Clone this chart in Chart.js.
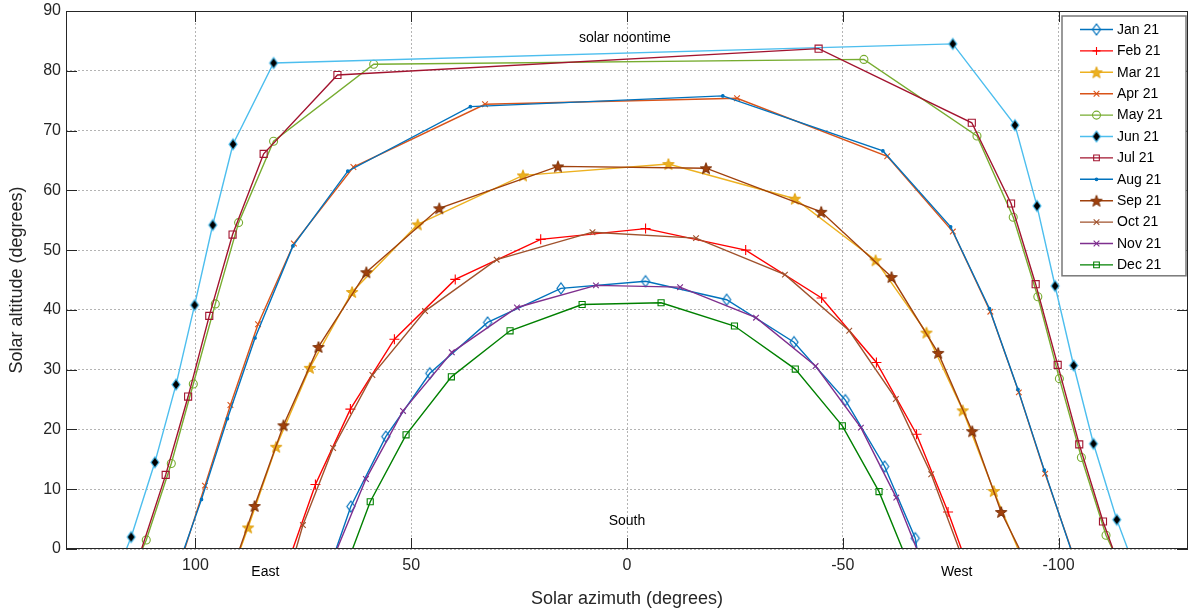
<!DOCTYPE html>
<html lang="en">
<head>
  <meta charset="UTF-8" />
  <title>Sun path diagram | Solar altitude vs azimuth</title>
  <script src="https://cdn.jsdelivr.net/npm/chart.js"></script>
  <style>
    body {
      margin: 0;
      background: #fff;
    }
    #chartContainer {
      position: relative;
      width: 1189px;
      height: 615px;
    }
  </style>
</head>
<body>
  <div id="chartContainer">
    <canvas id="sunPathChart"></canvas>
  </div>

  <script>
    // Sun path on the 21st of each month: azimuth (deg, + = east) and altitude (deg)
    const months = ['Jan 21', 'Feb 21', 'Mar 21', 'Apr 21', 'May 21', 'Jun 21',
                    'Jul 21', 'Aug 21', 'Sep 21', 'Oct 21', 'Nov 21', 'Dec 21'];

    const janAz  = [72.2, 64.0, 55.9, 45.7, 32.3, 15.3, -4.3, -23.1, -38.7, -50.6, -59.7, -66.8, -69.0];
    const janAlt = [-10, 7.1, 18.8, 29.4, 37.9, 43.6, 44.8, 41.7, 34.6, 24.9, 13.8, 1.8, -8];

    const febAz  = [82.3, 72.2, 64.1, 53.9, 39.8, 20.0, -4.3, -27.5, -45.1, -57.8, -67.1, -74.4, -82.5];
    const febAlt = [-10, 10.8, 23.4, 35.1, 45.1, 51.8, 53.6, 50.0, 42.0, 31.2, 19.2, 6.2, -10];

    const marAz  = [94.6, 87.8, 81.3, 73.5, 63.7, 48.5, 24.1, -9.6, -38.9, -57.6, -69.4, -77.8, -85.0, -96.4];
    const marAlt = [-10, 3.6, 17.1, 30.3, 43.0, 54.3, 62.5, 64.4, 58.6, 48.3, 36.2, 23.2, 9.7, -10];

    const aprAz  = [106.9, 97.8, 91.9, 85.5, 77.2, 63.4, 32.9, -25.5, -60.3, -75.5, -84.2, -90.8, -96.9, -107.7];
    const aprAlt = [-10, 10.6, 24.1, 37.6, 51.1, 63.9, 74.4, 75.4, 65.7, 53.1, 39.7, 26.2, 12.6, -10];

    const mayAz  = [118.5, 111.4, 105.6, 100.5, 95.4, 90.0, 81.9, 58.7, -54.9, -81.1, -89.5, -95.2, -100.2, -105.3, -111.0, -119.0];
    const mayAlt = [-10, 1.5, 14.3, 27.6, 41.0, 54.6, 68.2, 81.1, 81.9, 69.1, 55.5, 42.2, 28.5, 15.3, 2.3, -10];

    const junAz  = [121.5, 114.9, 109.4, 104.5, 100.2, 96.0, 91.3, 81.9, -75.5, -89.9, -95.0, -99.2, -103.5, -108.1, -113.5, -121.2];
    const junAlt = [-10, 2.0, 14.5, 27.5, 40.8, 54.2, 67.7, 81.3, 84.5, 70.9, 57.4, 44.0, 30.7, 17.6, 4.9, -10];

    const julAz  = [117.0, 106.9, 101.7, 96.8, 91.4, 84.2, 67.1, -44.4, -79.9, -89.0, -94.7, -99.8, -104.8, -110.3, -117.6];
    const julAlt = [-10, 12.4, 25.5, 39.0, 52.6, 66.1, 79.3, 83.7, 71.3, 57.8, 44.3, 30.8, 17.5, 4.6, -10];

    const augAz  = [107.5, 98.6, 92.6, 86.2, 77.4, 64.7, 36.3, -22.2, -59.3, -75.0, -84.0, -90.6, -96.7, -107.5];
    const augAlt = [-10, 8.3, 21.8, 35.3, 50.7, 63.2, 74.0, 75.8, 66.6, 53.9, 40.2, 26.7, 13.2, -10];

    const sepAz  = [94.6, 86.3, 79.6, 71.5, 60.4, 43.5, 16.0, -18.3, -45.0, -61.3, -72.1, -80.0, -86.7, -97.8];
    const sepAlt = [-10, 7.2, 20.7, 33.8, 46.3, 57.0, 64.0, 63.7, 56.4, 45.5, 32.8, 19.7, 6.2, -10];

    const octAz  = [80.7, 75.1, 68.1, 59.0, 46.8, 30.2, 8.0, -16.0, -36.6, -51.5, -62.3, -70.5, -82.1];
    const octAlt = [-10, 4.0, 16.9, 29.1, 39.8, 48.4, 53.0, 52.0, 45.9, 36.5, 25.1, 12.5, -10];

    const novAz  = [72.9, 60.5, 51.9, 40.6, 25.5, 7.2, -12.3, -29.9, -43.7, -54.2, -62.4, -72.7];
    const novAlt = [-10, 11.7, 23.1, 32.9, 40.4, 44.1, 43.8, 38.7, 30.6, 20.3, 8.6, -10];

    const decAz  = [68.8, 59.5, 51.2, 40.7, 27.1, 10.4, -7.9, -24.9, -39.0, -49.9, -58.4, -69.5];
    const decAlt = [-10, 7.9, 19.1, 28.8, 36.5, 40.9, 41.2, 37.3, 30.1, 20.6, 9.6, -10];

    const xTicks = [100, 50, 0, -50, -100];
    const yTicks = [0, 10, 20, 30, 40, 50, 60, 70, 80, 90];

    const azimuths  = [janAz, febAz, marAz, aprAz, mayAz, junAz, julAz, augAz, sepAz, octAz, novAz, decAz];
    const altitudes = [janAlt, febAlt, marAlt, aprAlt, mayAlt, junAlt, julAlt, augAlt, sepAlt, octAlt, novAlt, decAlt];

    const FONT = "'Liberation Sans', Arial, Helvetica, sans-serif";
    const INK = '#262626';
    const NONE = 'rgba(0,0,0,0)';

    // marker images for shapes Chart.js doesn't have
    function pentagram(fill, stroke) {
      const c = document.createElement('canvas');
      c.width = 14; c.height = 14;
      const g = c.getContext('2d');
      g.beginPath();
      for (let i = 0; i < 10; i++) {
        const r = i % 2 ? 2.5 : 6;
        const a = -Math.PI / 2 + i * Math.PI / 5;
        g.lineTo(7 + r * Math.cos(a), 7.6 + r * Math.sin(a));
      }
      g.closePath();
      g.fillStyle = fill;
      g.fill();
      g.strokeStyle = stroke;
      g.lineWidth = 1;
      g.stroke();
      return c;
    }

    function diamond(fill, stroke, w, h) {
      const c = document.createElement('canvas');
      c.width = w + 4; c.height = h + 4;
      const g = c.getContext('2d');
      const cx = c.width / 2, cy = c.height / 2;
      g.beginPath();
      g.moveTo(cx, cy - h / 2);
      g.lineTo(cx + w / 2, cy);
      g.lineTo(cx, cy + h / 2);
      g.lineTo(cx - w / 2, cy);
      g.closePath();
      if (fill) { g.fillStyle = fill; g.fill(); }
      g.strokeStyle = stroke;
      g.lineWidth = 1.2;
      g.stroke();
      return c;
    }

    const lineColors = ['#0072BD', '#FF0000', '#EDB120', '#D95319', '#77AC30', '#4DBEEE',
                        '#A2142F', '#0072BD', '#A0410D', '#A0522D', '#7E2F8E', '#008000'];

    const markers = [
      { style: diamond(null, '#0072BD', 8, 11), radius: 5, fill: NONE },
      { style: 'cross', radius: 5, fill: NONE },
      { style: pentagram('#EDB120', '#E0A010'), radius: 6, fill: NONE },
      { style: 'crossRot', radius: 4, fill: NONE },
      { style: 'circle', radius: 4, fill: NONE },
      { style: diamond('#000000', '#4DBEEE', 8, 11), radius: 5, fill: NONE },
      { style: 'rect', radius: 5, fill: NONE },
      { style: 'circle', radius: 1.3, fill: '#0072BD' },
      { style: pentagram('#A0410D', '#7A2E05'), radius: 6, fill: NONE },
      { style: 'crossRot', radius: 4, fill: NONE },
      { style: 'crossRot', radius: 4, fill: NONE },
      { style: 'rect', radius: 4.3, fill: NONE }
    ];

    const datasets = months.map((label, i) => ({
      label,
      data: azimuths[i].map((az, k) => ({ x: az, y: altitudes[i][k] })),
      showLine: true,
      borderColor: lineColors[i],
      borderWidth: 1.4,
      pointStyle: markers[i].style,
      pointRadius: markers[i].radius,
      pointBorderColor: lineColors[i],
      pointBackgroundColor: markers[i].fill,
      pointBorderWidth: 1.1,
      tension: 0,
      order: months.length - i
    }));

    // MATLAB-style box with inward ticks on all four sides
    const axesBox = {
      id: 'axesBox',
      afterDatasetsDraw(chart) {
        const { ctx, chartArea: a, scales: { x, y } } = chart;
        ctx.save();
        ctx.strokeStyle = INK;
        ctx.lineWidth = 1;
        ctx.strokeRect(a.left + 0.5, a.top + 0.5, a.width - 1, a.height - 1);
        ctx.beginPath();
        xTicks.forEach(v => {
          const px = Math.round(x.getPixelForValue(v)) + 0.5;
          ctx.moveTo(px, a.bottom); ctx.lineTo(px, a.bottom - 11);
          ctx.moveTo(px, a.top); ctx.lineTo(px, a.top + 11);
        });
        yTicks.forEach(v => {
          const py = Math.round(y.getPixelForValue(v)) + 0.5;
          ctx.moveTo(a.left, py); ctx.lineTo(a.left + 11, py);
          ctx.moveTo(a.right, py); ctx.lineTo(a.right - 11, py);
        });
        ctx.stroke();

        // text notes on the plot
        ctx.fillStyle = '#000';
        ctx.font = '14px ' + FONT;
        ctx.textAlign = 'center';
        ctx.textBaseline = 'middle';
        ctx.fillText('solar noontime', x.getPixelForValue(0.5), y.getPixelForValue(85.4));
        ctx.fillText('South', x.getPixelForValue(0), y.getPixelForValue(4.7));
        ctx.fillText('East', x.getPixelForValue(83.8), a.bottom + 23);
        ctx.fillText('West', x.getPixelForValue(-76.4), a.bottom + 23);
        ctx.restore();
      }
    };

    // boxed legend in the top-right corner, line + marker per entry
    const boxLegend = {
      id: 'boxLegend',
      afterDraw(chart) {
        const { ctx, chartArea: a } = chart;
        const w = 124, rowH = 21.4;
        const left = a.right - w - 2, top = a.top + 5;
        const h = rowH * months.length + 3;
        ctx.save();
        ctx.fillStyle = '#fff';
        ctx.fillRect(left, top, w, h);
        ctx.strokeStyle = '#787878';
        ctx.lineWidth = 1.5;
        ctx.strokeRect(left, top, w, h);
        chart.data.datasets.forEach((ds, i) => {
          const yy = top + 13.5 + i * rowH;
          ctx.strokeStyle = ds.borderColor;
          ctx.lineWidth = ds.borderWidth;
          ctx.beginPath();
          ctx.moveTo(left + 18, yy);
          ctx.lineTo(left + 51, yy);
          ctx.stroke();
          ctx.fillStyle = ds.pointBackgroundColor;
          ctx.strokeStyle = ds.pointBorderColor;
          ctx.lineWidth = ds.pointBorderWidth;
          Chart.helpers.drawPoint(ctx, {
            pointStyle: ds.pointStyle,
            radius: Math.min(ds.pointRadius, 4),
            rotation: 0,
            borderWidth: ds.pointBorderWidth
          }, left + 34.5, yy);
          ctx.fillStyle = '#000';
          ctx.font = '14px ' + FONT;
          ctx.textAlign = 'left';
          ctx.textBaseline = 'middle';
          ctx.fillText(ds.label, left + 55, yy + 0.5);
        });
        ctx.restore();
      }
    };

    Chart.defaults.font.family = FONT;

    const ctx = document.getElementById('sunPathChart').getContext('2d');
    new Chart(ctx, {
      type: 'scatter',
      data: { datasets },
      options: {
        responsive: true,
        maintainAspectRatio: false,
        animation: false,
        events: [],
        layout: {
          autoPadding: false,
          padding: { top: 11, right: 1, left: 0, bottom: 0 }
        },
        plugins: {
          legend: { display: false },
          tooltip: { enabled: false }
        },
        scales: {
          x: {
            type: 'linear',
            reverse: true,
            min: -130,
            max: 130,
            afterBuildTicks: s => { s.ticks = xTicks.map(v => ({ value: v })); },
            afterFit: s => {
              s.height = 66;
              s.paddingLeft = 0;
              s.paddingRight = 0;
            },
            ticks: { font: { size: 16 }, color: INK, padding: 7, autoSkip: false, maxRotation: 0 },
            grid: { color: '#b4b4b4', drawTicks: false },
            border: { display: false, dash: [2, 2] },
            title: {
              display: true,
              text: 'Solar azimuth (degrees)',
              font: { size: 18 },
              color: INK,
              padding: { top: 0, bottom: 5 }
            }
          },
          y: {
            min: 0,
            max: 90,
            afterBuildTicks: s => { s.ticks = yTicks.map(v => ({ value: v })); },
            afterFit: s => {
              s.width = 66;
              s.paddingTop = 0;
              s.paddingBottom = 0;
            },
            ticks: { font: { size: 16 }, color: INK, padding: 5 },
            grid: { color: '#b4b4b4', drawTicks: false },
            border: { display: false, dash: [2, 2] },
            title: {
              display: true,
              text: 'Solar altitude (degrees)',
              font: { size: 18 },
              color: INK,
              padding: { top: 6, bottom: 0 }
            }
          }
        }
      },
      plugins: [axesBox, boxLegend]
    });
  </script>
</body>
</html>
